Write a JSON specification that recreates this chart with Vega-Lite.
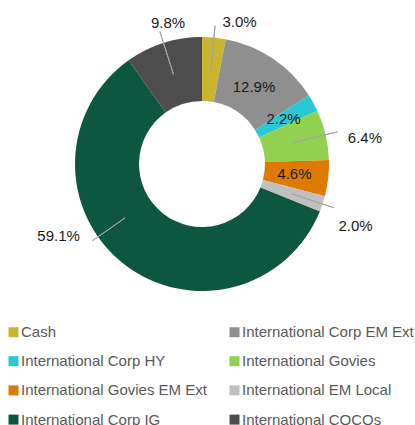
{
  "$schema": "https://vega.github.io/schema/vega-lite/v6.json",
  "width": 404,
  "height": 326,
  "padding": 0,
  "background": "white",
  "config": {"view": {"stroke": null}, "font": "Liberation Sans"},
  "data": {"values": [
    {"category": "Cash", "share": 0.030, "rank": 1},
    {"category": "International Corp EM Ext", "share": 0.129, "rank": 2},
    {"category": "International Corp HY", "share": 0.022, "rank": 3},
    {"category": "International Govies", "share": 0.064, "rank": 4},
    {"category": "International Govies EM Ext", "share": 0.046, "rank": 5},
    {"category": "International EM Local", "share": 0.020, "rank": 6},
    {"category": "International Corp IG", "share": 0.591, "rank": 7},
    {"category": "International COCOs", "share": 0.098, "rank": 8}
  ]},
  "encoding": {
    "theta": {"field": "share", "type": "quantitative", "stack": true, "scale": {"domain": [0, 1]}},
    "order": {"field": "rank", "type": "quantitative"}
  },
  "resolve": {"scale": {"theta": "independent"}},
  "layer": [
    {
      "mark": {"type": "arc", "outerRadius": 127, "innerRadius": 63},
      "encoding": {
        "color": {
          "field": "category", "type": "nominal", "sort": null,
          "scale": {
            "domain": ["Cash", "International Corp EM Ext", "International Corp HY", "International Govies", "International Govies EM Ext", "International EM Local", "International Corp IG", "International COCOs"],
            "range": ["#C9B530", "#8F8F8F", "#26C9D4", "#92D050", "#DD7A00", "#C0C0C0", "#0D5640", "#4D4D4D"]
          },
          "legend": {
            "title": null, "orient": "none", "legendX": 6, "legendY": 323.5,
            "direction": "horizontal", "columns": 2, "padding": 0,
            "symbolType": "square", "symbolSize": 100, "symbolStrokeWidth": 0,
            "labelFontSize": 15, "labelColor": "#595959", "labelFont": "Liberation Sans",
            "labelOffset": 0, "rowPadding": 13.2, "columnPadding": 20, "labelLimit": 300
          }
        }
      }
    },
    {
      "mark": {"type": "arc", "outerRadius": 139, "innerRadius": 94, "padAngle": 3, "stroke": "#A6A6A6", "strokeWidth": 1, "fillOpacity": 0},
      "encoding": {
        "strokeOpacity": {"condition": {"test": "indexof(['Cash','International COCOs','International Govies','International EM Local'], datum.category) >= 0", "value": 1}, "value": 0}
      }
    },
    {
      "mark": {"type": "arc", "outerRadius": 134, "innerRadius": 94, "padAngle": 3, "stroke": "#A6A6A6", "strokeWidth": 1, "fillOpacity": 0},
      "encoding": {
        "theta": {"field": "share", "type": "quantitative", "stack": true, "scale": {"domain": [0, 1], "range": [1.069, 6.069]}},
        "strokeOpacity": {"condition": {"test": "datum.category === 'International Corp IG'", "value": 1}, "value": 0}
      }
    },
    {
      "mark": {"type": "text", "radius": 93, "color": "#1a1a1a"},
      "encoding": {
        "text": {"condition": {"test": "indexof(['International Corp EM Ext','International Corp HY','International Govies EM Ext'], datum.category) >= 0", "field": "share", "type": "quantitative", "format": ".1%"}, "value": ""},
        "size": {"condition": {"test": "indexof(['International Corp EM Ext','International Corp HY','International Govies EM Ext'], datum.category) >= 0", "value": 15}, "value": 0}
      }
    },
    {
      "mark": {"type": "text", "radius": 145.5, "thetaOffset": 0.072, "color": "#1a1a1a"},
      "encoding": {
        "text": {"condition": {"test": "datum.category === 'International COCOs'", "field": "share", "type": "quantitative", "format": ".1%"}, "value": ""},
        "size": {"condition": {"test": "datum.category === 'International COCOs'", "value": 15}, "value": 0}
      }
    },
    {
      "mark": {"type": "text", "radius": 147, "thetaOffset": 0.164, "color": "#1a1a1a"},
      "encoding": {
        "text": {"condition": {"test": "datum.category === 'Cash'", "field": "share", "type": "quantitative", "format": ".1%"}, "value": ""},
        "size": {"condition": {"test": "datum.category === 'Cash'", "value": 15}, "value": 0}
      }
    },
    {
      "mark": {"type": "text", "radius": 165, "thetaOffset": 0.073, "color": "#1a1a1a"},
      "encoding": {
        "text": {"condition": {"test": "datum.category === 'International Govies'", "field": "share", "type": "quantitative", "format": ".1%"}, "value": ""},
        "size": {"condition": {"test": "datum.category === 'International Govies'", "value": 15}, "value": 0}
      }
    },
    {
      "mark": {"type": "text", "radius": 165.5, "thetaOffset": 0.063, "color": "#1a1a1a"},
      "encoding": {
        "text": {"condition": {"test": "datum.category === 'International EM Local'", "field": "share", "type": "quantitative", "format": ".1%"}, "value": ""},
        "size": {"condition": {"test": "datum.category === 'International EM Local'", "value": 15}, "value": 0}
      }
    },
    {
      "mark": {"type": "text", "radius": 160.5, "thetaOffset": 0.436, "color": "#1a1a1a"},
      "encoding": {
        "text": {"condition": {"test": "datum.category === 'International Corp IG'", "field": "share", "type": "quantitative", "format": ".1%"}, "value": ""},
        "size": {"condition": {"test": "datum.category === 'International Corp IG'", "value": 15}, "value": 0}
      }
    }
  ]
}
